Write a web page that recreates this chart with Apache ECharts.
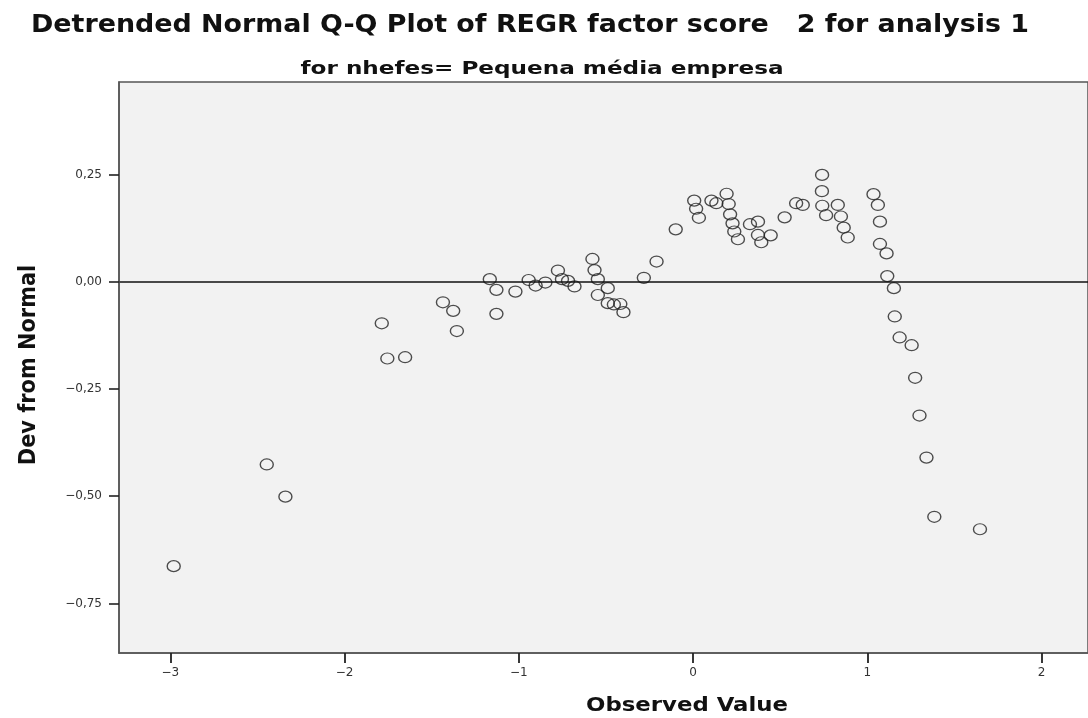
<!DOCTYPE html>
<html>
<head>
<meta charset="utf-8">
<script src="https://cdn.jsdelivr.net/npm/echarts@6/dist/echarts.min.js"></script>
<style>html,body{margin:0;padding:0;background:#fff}#c{width:1088px;height:718px}</style>
</head>
<body>
<div id="c"></div>
<script>
const titleText = 'Detrended Normal Q-Q Plot of REGR factor score   2 for analysis 1';
const subtitleText = 'for nhefes= Pequena média empresa';
const xAxisName = 'Observed Value';
const yAxisName = 'Dev from Normal';
const xTicks = [-3, -2, -1, 0, 1, 2];
const yTicks = [-0.75, -0.5, -0.25, 0, 0.25];

const observed = [
  -2.981, -2.447, -2.340, -1.787, -1.755, -1.653, -1.436, -1.377, -1.356, -1.167,
  -1.129, -1.129, -1.020, -0.944, -0.904, -0.848, -0.776, -0.753, -0.718, -0.681,
  -0.578, -0.566, -0.547, -0.547, -0.490, -0.490, -0.455, -0.418, -0.400, -0.283,
  -0.210, -0.100, 0.006, 0.017, 0.033, 0.105, 0.133, 0.192, 0.204, 0.212,
  0.226, 0.236, 0.257, 0.326, 0.372, 0.372, 0.391, 0.445, 0.525, 0.591,
  0.629, 0.740, 0.739, 0.741, 0.763, 0.830, 0.848, 0.864, 0.887, 1.035,
  1.060, 1.072, 1.072, 1.110, 1.114, 1.152, 1.157, 1.185, 1.254, 1.274,
  1.299, 1.339, 1.384, 1.646
];
const devFromNormal = [
  -0.663, -0.426, -0.501, -0.097, -0.179, -0.176, -0.048, -0.068, -0.115, 0.006,
  -0.019, -0.075, -0.023, 0.004, -0.009, -0.002, 0.026, 0.006, 0.002, -0.011,
  0.053, 0.027, 0.006, -0.031, -0.015, -0.050, -0.053, -0.052, -0.071, 0.009,
  0.047, 0.122, 0.189, 0.170, 0.149, 0.189, 0.183, 0.205, 0.181, 0.157,
  0.136, 0.117, 0.099, 0.134, 0.140, 0.109, 0.092, 0.108, 0.150, 0.183,
  0.179, 0.249, 0.211, 0.177, 0.155, 0.179, 0.152, 0.126, 0.103, 0.204,
  0.179, 0.140, 0.088, 0.066, 0.013, -0.015, -0.081, -0.130, -0.148, -0.224,
  -0.312, -0.410, -0.548, -0.577
];

const points = observed.map((v, i) => [v, devFromNormal[i]]);
const fmt = v => {
  const s = Math.abs(v).toFixed(2).replace('.', ',');
  return v < 0 ? '\u2212' + s : s;
};
const fmtX = v => (v < 0 ? '\u2212' + Math.abs(v) : String(v));

const boldFont = size => 'bold ' + size + 'px "DejaVu Sans"';

const chart = echarts.init(document.getElementById('c'), null, {renderer: 'canvas'});
chart.setOption({
  animation: false,
  backgroundColor: '#ffffff',
  graphic: [
    {
      type: 'text', x: 530, y: 26, scaleX: 1.12,
      style: {text: titleText, font: boldFont(24), fill: '#111', align: 'center', verticalAlign: 'middle'}
    },
    {
      type: 'text', x: 542, y: 70, scaleX: 1.36,
      style: {text: subtitleText, font: boldFont(17), fill: '#111', align: 'center', verticalAlign: 'middle'}
    },
    {
      type: 'text', x: 687, y: 706, scaleX: 1.2,
      style: {text: xAxisName, font: boldFont(19), fill: '#111', align: 'center', verticalAlign: 'middle'}
    },
    {
      type: 'text', x: 29, y: 365, rotation: Math.PI / 2, scaleX: 1.1, scaleY: 1.2,
      style: {text: yAxisName, font: boldFont(19), fill: '#111', align: 'center', verticalAlign: 'middle'}
    }
  ],
  grid: {
    left: 119, top: 82, right: -3, bottom: 65,
    show: true, backgroundColor: '#f2f2f2', borderColor: '#555', borderWidth: 1.5
  },
  xAxis: {
    type: 'value',
    position: 'bottom',
    min: -3.295, max: 2.266,
    axisLine: {show: true, onZero: false, lineStyle: {color: '#555', width: 1.5}},
    axisTick: {show: true, inside: false, length: 10, customValues: xTicks, lineStyle: {color: '#222', width: 1.8}},
    axisLabel: {customValues: xTicks, formatter: fmtX, color: '#333', fontFamily: 'DejaVu Sans', fontSize: 12, margin: 14},
    splitLine: {show: false},
    z: 5
  },
  yAxis: {
    type: 'value',
    position: 'left',
    min: -0.8655, max: 0.4655,
    axisLine: {show: true, onZero: false, lineStyle: {color: '#555', width: 1.5}},
    axisTick: {show: true, inside: false, length: 10, customValues: yTicks, lineStyle: {color: '#222', width: 1.6}},
    axisLabel: {customValues: yTicks, formatter: fmt, color: '#333', fontFamily: 'DejaVu Sans', fontSize: 12, margin: 17},
    splitLine: {show: false},
    z: 5
  },
  series: [{
    type: 'scatter',
    data: points,
    symbol: 'circle',
    symbolSize: [13, 11],
    itemStyle: {color: 'rgba(0,0,0,0)', borderColor: '#222', borderWidth: 1.3},
    markLine: {
      silent: true, symbol: ['none', 'none'],
      label: {show: false},
      lineStyle: {color: '#111', width: 1.5, type: 'solid'},
      data: [{yAxis: 0}]
    },
    z: 3
  }]
});
</script>
</body>
</html>
